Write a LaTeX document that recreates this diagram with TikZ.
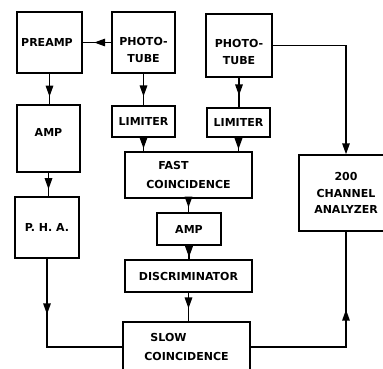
\documentclass[tikz,border=0pt]{standalone}
\usepackage{fontspec}
\newfontfamily\lblfont{DejaVu Sans}
\usetikzlibrary{positioning,arrows.meta,decorations.markings}

\begin{document}
\begin{tikzpicture}[x=1pt,y=-1pt,
  bx/.style={draw,line width=1.5pt,inner sep=0pt,align=center,
    font=\lblfont\bfseries\fontsize{11}{16.5}\selectfont},
  lk/.style={line width=1.5pt},
  mk/.style={lk,postaction={decorate},decoration={markings,
    mark=at position #1 with {\arrow{Triangle[length=11pt,width=7.5pt]}}}}]
\useasboundingbox (0,0) rectangle (383,368);

% --- left chain ---
\node[bx,minimum width=65pt,minimum height=61pt] (preamp) at (49.5,42.5) {PREAMP\kern5pt};
\node[bx,minimum width=63pt,minimum height=67pt,text depth=12pt] (amp1) at (48.5,138.5) {AMP};
\node[bx,minimum width=64pt,minimum height=61pt] (pha) at (47,227.5) {P. H. A.};

% --- photo-tubes and limiters ---
\node[bx,minimum width=63pt,minimum height=61pt,text height=40pt] (pt1) at (143.5,42.5) {PHOTO-\\TUBE};
\node[bx,minimum width=66pt,minimum height=63pt,text height=38pt] (pt2) at (239,45.5) {PHOTO-\\TUBE};
\node[bx,minimum width=63pt,minimum height=31pt] (lim1) at (143.5,121.5) {LIMITER};
\node[bx,minimum width=63pt,minimum height=29pt] (lim2) at (238.5,122.5) {LIMITER};

% --- centre chain ---
\node[bx,minimum width=127pt,minimum height=46pt] (fast) at (188.5,175) {\llap{FAST}\\[2pt]COINCIDENCE};
\node[bx,minimum width=64pt,minimum height=32pt] (amp2) at (189,229) {AMP};
\node[bx,minimum width=127pt,minimum height=32pt] (disc) at (188.5,276) {DISCRIMINATOR};
\node[bx,minimum width=127pt,minimum height=50pt] (slow) at (186.5,347) {\llap{SLOW}\\[3pt]COINCIDENCE};

% --- analyzer ---
\node[bx,minimum width=94pt,minimum height=76pt] (ana) at (346,193) {200\\CHANNEL\\ANALYZER};

% --- connectors ---
\draw[mk=0.60] (pt1.west) -- (preamp.east);
\draw[mk=0.75] (preamp.south) -- (preamp.south |- amp1.north);
\draw[mk=0.70] (amp1.south) -- (amp1.south |- pha.north);
\draw[mk=0.34] (pha.south) |- (slow.west);
\draw[mk=0.72] (pt1.south) -- (lim1.north);
\draw[mk=0.60] (pt2.south) -- (pt2.south |- lim2.north);
\draw[mk=0.80] (lim1.south) -- (lim1.south |- fast.north);
\draw[mk=0.85] (lim2.south) -- (lim2.south |- fast.north);
\draw[mk=0.65] (fast.south) -- (fast.south |- amp2.north);
\draw[mk=0.85] (amp2.south) -- (amp2.south |- disc.north);
\draw[mk=0.55] (disc.south) -- (disc.south |- slow.north);
\draw[mk=0.63] (slow.east) -| (ana.south);
\draw[lk,-{Triangle[length=11pt,width=7.5pt]}] (pt2.east) -| (ana.north);
\end{tikzpicture}
\end{document}
